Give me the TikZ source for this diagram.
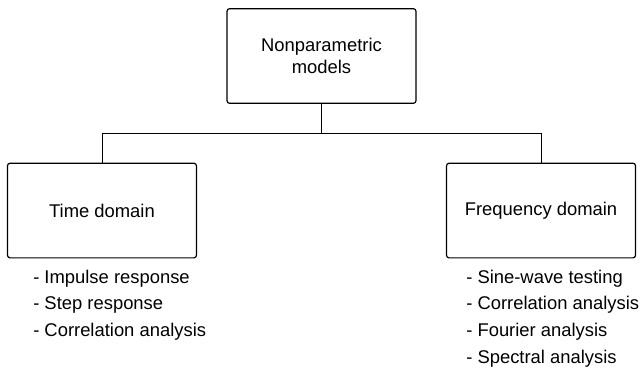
\documentclass[tikz,border=0pt]{standalone}
\usepackage{fontspec}
\setmainfont{Liberation Sans}
\usetikzlibrary{positioning}
\tikzset{
  boxnode/.style = {draw=black, line width=0.9pt, rounded corners=2pt,
    minimum width=141.75pt, minimum height=71pt, align=center,
    font=\fontsize{13.8}{16.5}\selectfont},% bloc du modele
  listnode/.style = {align=left, inner sep=0pt,
    font=\fontsize{13.8}{20}\selectfont}% liste sous un bloc
}

\begin{document}
\begin{tikzpicture}[line width=0.6pt, level distance=115.9pt,
  sibling distance=329.25pt,
  edge from parent path={(\tikzparentnode.south) -- ++(0,-21.75pt)
    -| (\tikzchildnode.north)}]
\useasboundingbox (-241.1pt,42pt) rectangle (241.1pt,-239.25pt);
\node [boxnode] (np) {Nonparametric\\models}
child {
	node [boxnode] (td) {Time domain}
}
child {
	node [boxnode] (fd) {Frequency domain}
} ;
\node [listnode, anchor=north west] (tdl) at ([xshift=19.5pt,yshift=-8.25pt]td.south west)
  {- Impulse response\\- Step response\\- Correlation analysis};
\node [listnode, anchor=north west] (fdl) at ([xshift=15pt,yshift=-8.25pt]fd.south west)
  {- Sine-wave testing\\- Correlation analysis\\- Fourier analysis\\- Spectral analysis};
\end{tikzpicture}
\end{document}
